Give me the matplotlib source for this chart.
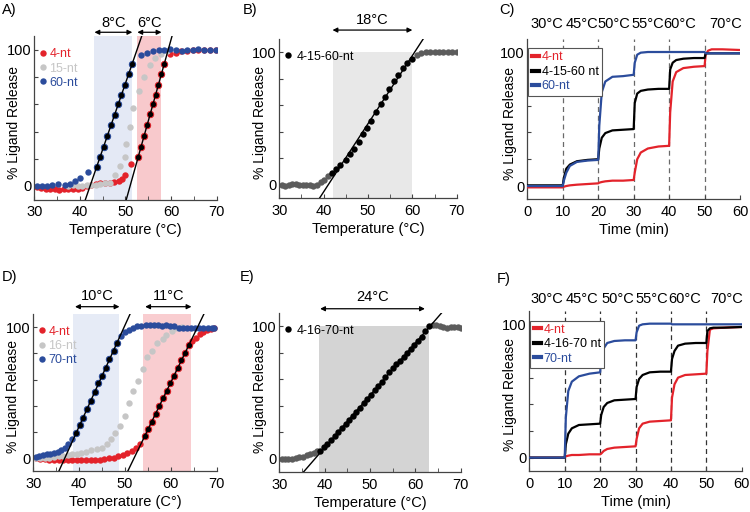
import numpy as np
import matplotlib.pyplot as plt
from matplotlib.lines import Line2D

plt.rcParams['font.family'] = ['Liberation Sans', 'DejaVu Sans']

RED = '#e3232b'
LGREY = '#c6c6c6'
BLUE = '#2b4c9c'
DGREY = '#5c5c5c'

# ---------------- panel A : 4-nt / 15-nt / 60-nt ----------------
a60_x = [30.5, 31.8, 32.9, 33.9, 35.2, 36.7, 37.8, 38.9, 40.1, 41.8,
         53.5, 54.8, 56.0, 57.3, 58.5, 59.8, 61.0, 62.3, 63.5, 64.8, 66.0, 67.3, 68.5, 69.8]
a60_y = [0, 0, 0, 0.5, 1.5, 1, 1.5, 4, 6, 10,
         96, 98, 99, 100, 100, 100.5, 100, 99.5, 100, 100, 100.5, 100, 100, 100]
a60_lin_x = [43.7, 44.4, 45.2, 46.0, 46.9, 47.6, 48.4, 49.1, 49.8, 50.7, 51.5]
a60_lin_y = [14, 21, 29, 37, 45, 52, 60, 67, 74, 82, 90]

a15_x = [37.5, 38.5, 39.5, 40.5, 41.5, 42.5, 43.5, 44.5, 45.5, 46.5, 47.7, 48.9,
         49.8, 50.1, 51.0, 51.7, 53.0, 54.0, 55.4, 56.5, 57.8, 59.0]
a15_y = [0, 0.5, 0, 0, 0.5, 1, 1, 1.5, 2, 2.5, 8, 15,
         21, 31, 43, 57, 70, 80, 89, 94, 97, 99]

a4_x = [30.5, 31.5, 32.5, 33.5, 34.5, 35.5, 36.5, 37.5, 38.5, 39.5, 40.5, 41.5,
        42.5, 43.5, 44.5, 45.5, 46.5, 47.5, 48.5, 49.3, 50.0, 51.2,
        59.8, 61.0, 62.2, 63.5, 64.8, 66.0, 67.3, 68.5, 69.8]
a4_y = [-1, -1.5, -2, -2, -2.5, -3, -2.5, -2.5, -2, -2, -1.5, 0,
        0.5, 1.5, 2, 2, 2.5, 3, 3.5, 5, 8, 16,
        97, 98, 99, 99, 100, 100, 100, 100, 100]
a4_lin_x = [52.8, 53.4, 54.1, 54.8, 55.4, 56.0, 56.6, 57.2, 57.9, 58.5]
a4_lin_y = [21, 29, 37, 45, 53, 60, 67, 74, 82, 90]

a_spans = [(43.2, 51.5), (52.6, 57.9)]
a_widths = ['8°C', '6°C']

# ---------------- panel B : 4-15-60-nt ----------------
b_x = [30.5, 31.3, 32.1, 32.9, 33.7, 34.5, 35.3, 36.1, 36.9, 37.7, 38.5, 39.3, 40.1, 40.9,
       61.0, 62.0, 63.0, 64.0, 65.0, 66.0, 67.0, 68.0, 69.0, 70.0]
b_y = [0, -1, 0, 1, 0.5, 0, 0, 0, 0, -1, 0, 2, 4, 6.5,
       98, 99, 100, 100, 100, 100, 100, 100, 100, 100]
b_lin_x = [41.8, 42.8, 43.8, 45.0, 45.9, 46.9, 47.9, 48.8, 49.7, 50.6,
           51.7, 52.9, 53.8, 54.8, 55.9, 56.8, 57.8, 58.9, 60.0]
b_lin_y = [9, 12, 15, 19, 23, 27, 32, 38, 43, 48,
           55, 61, 66, 72, 78, 83, 88, 92, 95]
b_span = (42, 60)
b_width = '18°C'

# ---------------- panel D : 4-nt / 16-nt / 70-nt ----------------
d70_x = [30.5, 31.3, 32.1, 32.9, 33.7, 34.5, 35.3, 36.1, 36.9, 37.6, 38.4,
         49.1, 50.0, 50.9, 51.8, 52.7, 53.6, 54.5, 55.4, 56.3, 57.2, 58.1, 59.0,
         59.9, 60.8, 61.7, 62.6, 63.5, 64.4, 65.3, 66.2, 67.1, 68.0, 68.9, 69.5]
d70_y = [1, 2, 2.5, 3, 3.5, 4, 5, 6, 8, 10.5, 15,
         93, 96.5, 98, 99.5, 100.5, 101, 101.5, 101.5, 101.5, 101.5, 101, 101.5,
         101, 100.5, 99, 99, 99, 99, 99, 99, 99, 99, 99, 99]
d70_lin_x = [39.3, 40.1, 40.9, 41.7, 42.6, 43.4, 44.2, 45.0, 45.8, 46.6, 47.5, 48.3]
d70_lin_y = [19, 25, 31, 37.5, 44, 50.5, 57, 63, 69, 75.5, 82, 88]

d16_x = [30.5, 31.5, 32.5, 33.5, 34.5, 35.5, 36.5, 37.5, 38.5, 39.5, 40.5, 41.5, 42.5,
         43.8, 44.9, 46.0, 46.9, 47.8, 49.0, 49.9, 50.9, 51.8, 52.8, 53.9, 54.7,
         55.8, 56.9, 58.2, 59.0, 60.2, 61.3, 62.5]
d16_y = [0, 0, 0.5, 0.5, 1, 1.5, 2, 2.5, 3, 3.5, 4, 5, 6,
         7, 8, 10.5, 14.5, 19.5, 24.5, 32, 42, 51, 59, 68, 77,
         82, 88, 91, 94, 97, 99, 100]

d4_x = [30.5, 31.5, 32.5, 33.5, 34.5, 35.5, 36.5, 37.5, 38.5, 39.5, 40.5, 41.5,
        42.5, 43.5, 44.5, 45.5, 46.5, 47.5, 48.5, 49.5, 50.5, 51.5, 52.5, 53.3,
        64.7, 65.5, 66.3, 67.1, 67.9, 68.7, 69.5]
d4_y = [0, -0.5, -0.5, -1, -1, -1.5, -1.5, -1.5, -1.5, -1.5, -1.5, -1.5,
        -1, -1, -1, -0.5, 0, 0.5, 1.5, 2.5, 4, 5.5, 7.5, 10.5,
        89, 92, 94.5, 96.5, 97.5, 98.5, 99]
d4_lin_x = [54.3, 55.1, 55.9, 56.7, 57.5, 58.3, 59.1, 59.9, 60.7, 61.5, 62.3, 63.1, 63.9]
d4_lin_y = [17, 22.5, 28, 34, 40, 46, 51.5, 57, 63, 69, 74.5, 80, 86]

d_spans = [(38.6, 48.8), (53.9, 64.5)]
d_widths = ['10°C', '11°C']

# ---------------- panel E : 4-16-70-nt ----------------
e_x = [30.5, 31.2, 32.0, 32.8, 33.6, 34.4, 35.2, 36.0, 36.8, 37.6, 38.3,
       63.8, 64.6, 65.4, 66.2, 67.0, 67.8, 68.6, 69.4, 70.0]
e_y = [0, -0.5, 0, 0, 0.5, 1, 1.5, 2.5, 3.5, 4.5, 6,
       101, 100.5, 100, 99, 98.5, 99.5, 99.5, 99, 98.5]
e_lin_x = [39.0, 39.8, 40.6, 41.4, 42.2, 43.0, 43.8, 44.6, 45.4, 46.2, 47.0,
           47.8, 48.6, 49.4, 50.2, 51.0, 51.8, 52.6, 53.4, 54.2, 55.0, 55.8,
           56.6, 57.4, 58.2, 59.0, 59.8, 60.6, 61.4, 62.2, 63.0]
e_lin_y = [6, 8.5, 11, 14, 17, 20, 23, 26, 29, 32, 35,
           38.5, 42, 45, 48, 51.5, 55, 58, 61.5, 65, 68, 71,
           74, 77, 80, 83, 86, 89, 92, 96, 100]
e_span = (38.7, 63.1)
e_arrow = (39.0, 62.1)
e_width = '24°C'

# ---------------- panels C and F : stepwise heating ----------------
t_min = [0, 10, 10.3, 11, 12, 14, 17, 20, 20.3, 21, 22, 24, 27, 30,
         30.3, 31, 32, 34, 37, 40, 40.3, 41, 42, 44, 47, 50, 50.3, 51, 52, 55, 60]
steps = [10, 20, 30, 40, 50]
temps = ['30°C', '45°C', '50°C', '55°C', '60°C', '70°C']

c_4 = [-1, -1, -0.5, 0, 0.5, 1, 1.5, 2, 2.5, 3, 3.5, 4, 4, 4.5,
       10, 20, 25, 28, 29.5, 30, 55, 78, 85, 88, 89, 89.5, 98, 101, 102, 102, 101.5]
c_mix = [0.5, 0.5, 6, 13, 16, 18.5, 19.5, 20, 28, 36, 39.5, 41.5, 42, 42.5,
         62, 69, 71, 72, 72.5, 72.5, 87, 92, 94, 95, 95.5, 95.5, 99, 99, 99, 99, 99]
c_60 = [0, 0, 4, 10, 15, 18, 19, 19.5, 45, 70, 78, 81.5, 82, 83,
        92, 98, 99.5, 100, 100, 100, 100, 100, 100, 100, 100, 100, 99, 99, 99, 99, 99]
c_temp_x = [5.6, 15.5, 24.4, 33.9, 43.1, 55.8]

f_4 = [0, 0, 1, 1.5, 2, 2, 2.5, 2.5, 3, 5, 6.5, 7.5, 8, 8.5,
       14, 22, 25.5, 27, 27.5, 28, 45, 55, 60, 62, 62.5, 63, 80, 96, 97, 97.5, 98]
f_mix = [0, 0, 10, 18, 22, 24.5, 25, 25.5, 32, 38, 41, 43, 43.5, 44,
         53, 59, 62, 64, 64.5, 64.5, 74, 80, 84, 85.5, 86, 86, 95, 97, 97.5, 97.5, 98]
f_70 = [0, 0, 30, 50, 57, 61, 63, 64, 74, 82, 86, 87.5, 88, 88,
        94, 99, 100, 100.5, 100.5, 100.5, 100, 100, 100, 100, 100, 100, 100, 100, 100, 100, 100]
f_temp_x = [5.0, 14.8, 25.0, 34.5, 44.0, 55.7]


fig = plt.figure(figsize=(7.5, 5.12), dpi=100)

def style(ax, xlim, xlabel, xmajor, xminor, ylx):
    ax.set_xlim(*xlim)
    ax.set_ylim(-10, 110)
    for s in ['top', 'right']:
        ax.spines[s].set_visible(False)
    for s in ['left', 'bottom']:
        ax.spines[s].set_color('#444444')
        ax.spines[s].set_linewidth(0.9)
    ax.set_yticks([0, 20, 40, 60, 80, 100])
    ax.set_yticklabels(['0', '', '', '', '', '100'])
    ax.set_xticks(xmajor)
    ax.set_xticks(xminor, minor=True)
    ax.tick_params(axis='y', direction='in', length=3, pad=2, labelsize=10.5, color='#444444')
    ax.tick_params(axis='x', which='both', direction='in', length=3, pad=4,
                   labelsize=10.5, color='#444444')
    ax.set_xlabel(xlabel, fontsize=10.5, labelpad=3)
    ax.set_ylabel('% Ligand Release', fontsize=10)
    ax.yaxis.set_label_coords(ylx, 0.475)

def fit_line(ax, x, y):
    k, b = np.polyfit(x, y, 1)
    xx = np.array(ax.get_xlim())
    ax.plot(xx, k * xx + b, color='black', lw=1.0, zorder=5)

def width_arrow(ax, x0, x1, ya, label, yt):
    ax.annotate('', xy=(x0, ya), xytext=(x1, ya),
                arrowprops=dict(arrowstyle='<|-|>', color='black', lw=0.9,
                                mutation_scale=7, shrinkA=0, shrinkB=0),
                annotation_clip=False)
    ax.text((x0 + x1) / 2, yt, label, ha='center', va='center', fontsize=10.5, clip_on=False)

ms = 4.6
temp_major = [30, 40, 50, 60, 70]
temp_minor = [35, 45, 55, 65]

# ----- A -----
ax = fig.add_axes([0.0457, 0.6102, 0.2432, 0.3188])
style(ax, (30, 70), 'Temperature (°C)', temp_major, temp_minor, -0.075)
ax.axvspan(*a_spans[0], color='#e4e9f5', lw=0, zorder=0)
ax.axvspan(*a_spans[1], color='#f8c9cc', lw=0, zorder=0)
ax.plot(a4_x + a4_lin_x, a4_y + a4_lin_y, 'o', ls='none', color=RED, ms=ms, mec='none', label='4-nt')
ax.plot(a15_x, a15_y, 'o', color=LGREY, ms=ms, mec='none', label='15-nt')
ax.plot(a60_x + a60_lin_x, a60_y + a60_lin_y, 'o', ls='none', color=BLUE, ms=ms, mec='none', label='60-nt')
ax.plot(a60_lin_x, a60_lin_y, 'o', color='black', mec=BLUE, mew=0.7, ms=ms, zorder=4)
ax.plot(a4_lin_x, a4_lin_y, 'o', color='black', mec=RED, mew=0.7, ms=ms, zorder=4)
fit_line(ax, a60_lin_x, a60_lin_y)
fit_line(ax, a4_lin_x, a4_lin_y)
ax.legend(loc='upper left', bbox_to_anchor=(-0.01, 0.965), frameon=False, fontsize=9,
          handlelength=0.7, handletextpad=0.15, labelspacing=0.18, borderpad=0,
          labelcolor=[RED, LGREY, BLUE])
for (x0, x1), w in zip(a_spans, a_widths):
    width_arrow(ax, x0, x1, 113, w, 119.5)

# ----- B -----
ax = fig.add_axes([0.3724, 0.6127, 0.2365, 0.3117])
style(ax, (30, 70), 'Temperature (°C)', temp_major, temp_minor, -0.068)
ax.fill_between(b_span, -10, 100, color='#e8e8e8', lw=0, zorder=0)
ax.plot(b_x, b_y, 'o', color=DGREY, ms=ms, mec='none')
ax.plot(b_lin_x, b_lin_y, 'o', color='black', ms=ms, mec='none', zorder=4, label='4-15-60-nt')
fit_line(ax, b_lin_x, b_lin_y)
ax.legend(loc='upper left', bbox_to_anchor=(-0.01, 0.965), frameon=False, fontsize=9,
          handlelength=0.7, handletextpad=0.3, borderpad=0)
width_arrow(ax, b_span[0], b_span[1], 116.5, b_width, 124)

# ----- C -----
def time_panel(rect, ylx, series, labels, colors, tx, vcol, ty):
    ax = fig.add_axes(rect)
    style(ax, (0, 60), 'Time (min)', [0, 10, 20, 30, 40, 50, 60], [], ylx)
    for s in steps:
        ax.axvline(s, color=vcol, ls=(0, (4, 3)), lw=0.9, zorder=1)
    for y, c in zip(series, colors):
        ax.plot(t_min, y, color=c, lw=1.6, zorder=3)
    handles = [Line2D([], [], color=c, lw=3) for c in colors]
    leg = ax.legend(handles, labels, loc='upper left', bbox_to_anchor=(0.005, 0.94),
                    fontsize=9, handlelength=0.6, handletextpad=0.2, labelspacing=0.2,
                    borderpad=0.25, borderaxespad=0, fancybox=False, framealpha=1,
                    edgecolor='#555555', labelcolor=colors)
    leg.get_frame().set_linewidth(0.8)
    for x, t in zip(tx, temps):
        ax.text(x, ty, t, ha='center', va='center', fontsize=10.5, clip_on=False)
    return ax

time_panel([0.7031, 0.6105, 0.2836, 0.3141], -0.048, [c_4, c_mix, c_60],
           ['4-nt', '4-15-60 nt', '60-nt'], [RED, 'black', BLUE], c_temp_x, '#6a6a6a', 121)

# ----- D -----
ax = fig.add_axes([0.0444, 0.0793, 0.2445, 0.3076])
style(ax, (30, 70), 'Temperature (C°)', temp_major, temp_minor, -0.07)
ax.axvspan(*d_spans[0], color='#e6ebf6', lw=0, zorder=0)
ax.axvspan(*d_spans[1], color='#f9cdd0', lw=0, zorder=0)
ax.plot(d4_x + d4_lin_x, d4_y + d4_lin_y, 'o', ls='none', color=RED, ms=ms, mec='none', label='4-nt')
ax.plot(d16_x, d16_y, 'o', color=LGREY, ms=ms, mec='none', label='16-nt')
ax.plot(d70_x + d70_lin_x, d70_y + d70_lin_y, 'o', ls='none', color=BLUE, ms=ms, mec='none', label='70-nt')
ax.plot(d70_lin_x, d70_lin_y, 'o', color='black', mec=BLUE, mew=0.7, ms=ms, zorder=4)
ax.plot(d4_lin_x, d4_lin_y, 'o', color='black', mec=RED, mew=0.7, ms=ms, zorder=4)
fit_line(ax, d70_lin_x, d70_lin_y)
fit_line(ax, d4_lin_x, d4_lin_y)
ax.legend(loc='upper left', bbox_to_anchor=(-0.01, 0.965), frameon=False, fontsize=9,
          handlelength=0.7, handletextpad=0.15, labelspacing=0.18, borderpad=0,
          labelcolor=[RED, LGREY, BLUE])
for (x0, x1), w in zip(d_spans, d_widths):
    width_arrow(ax, x0 + 0.5, x1, 115.5, w, 124)

# ----- E -----
ax = fig.add_axes([0.3724, 0.0781, 0.2419, 0.3111])
style(ax, (30, 70), 'Temperature (°C)', temp_major, temp_minor, -0.066)
ax.fill_between(e_span, -10, 100, color='#d4d4d4', lw=0, zorder=0)
ax.plot(e_x, e_y, 'o', color=DGREY, ms=ms, mec='none')
ax.plot(e_lin_x, e_lin_y, 'o', color='black', ms=ms, mec='none', zorder=4, label='4-16-70-nt')
fit_line(ax, e_lin_x, e_lin_y)
ax.legend(loc='upper left', bbox_to_anchor=(-0.01, 0.965), frameon=False, fontsize=9,
          handlelength=0.7, handletextpad=0.3, borderpad=0)
width_arrow(ax, e_arrow[0], e_arrow[1], 113, e_width, 121.5)

# ----- F -----
time_panel([0.7058, 0.0801, 0.2832, 0.3125], -0.056, [f_4, f_mix, f_70],
           ['4-nt', '4-16-70 nt', '70-nt'], [RED, 'black', BLUE], f_temp_x, '#333333', 119)

for lab, x, y in [('A)', 2, 10), ('B)', 243, 10), ('C)', 499, 10),
                  ('D)', 2, 277), ('E)', 240, 277), ('F)', 497, 279)]:
    fig.text(x / 750, 1 - y / 512, lab, fontsize=10.5, va='center', ha='left')

fig.savefig('out.png', dpi=100)
